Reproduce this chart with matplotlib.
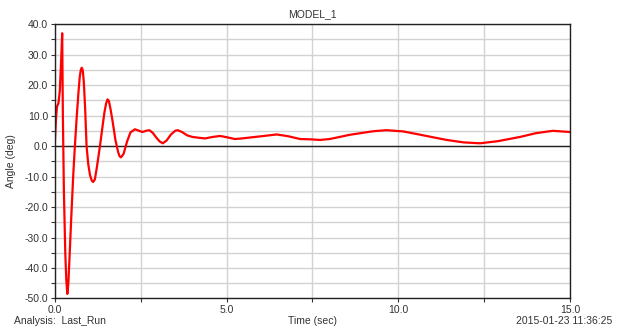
import matplotlib.pyplot as plt
from matplotlib.ticker import MultipleLocator

plt.rcParams['font.family'] = 'Liberation Sans'

# values
time = [0, 0.03, 0.06, 0.1, 0.14, 0.18, 0.21, 0.23, 0.26, 0.3, 0.33, 0.36, 0.39,
        0.43, 0.48, 0.53, 0.58, 0.63, 0.68, 0.72, 0.75, 0.78, 0.81, 0.84, 0.88,
        0.92, 0.97, 1.02, 1.07, 1.11, 1.16, 1.22, 1.31, 1.38, 1.44, 1.49, 1.53,
        1.57, 1.62, 1.68, 1.76, 1.84, 1.88, 1.92, 1.96, 2.0, 2.1, 2.2, 2.33,
        2.45, 2.55, 2.65, 2.75, 2.85, 2.95, 3.05, 3.14, 3.25, 3.38, 3.5, 3.57,
        3.7, 3.85, 4.0, 4.2, 4.37, 4.6, 4.81, 5.0, 5.24, 5.45, 5.68, 6.0, 6.46,
        6.8, 7.14, 7.45, 7.72, 8.0, 8.3, 8.59, 9.0, 9.3, 9.66, 10.14, 10.6,
        11.0, 11.41, 11.9, 12.38, 12.9, 13.55, 14.0, 14.5, 15.0]
angle = [2, 9, 13, 14, 18, 28, 37, 10, -15, -35, -44, -48.5, -45,
         -35, -22, -10, 0, 9, 17, 22.5, 24.8, 25.7, 24.8, 21, 12,
         0, -6, -9.5, -11.3, -11.8, -11, -7, 0, 6, 11, 14, 15.3,
         14.8, 12, 8, 2, -2, -3.3, -3.7, -3.2, -2.5, 1.5, 4.5, 5.5,
         5, 4.6, 5, 5.2, 4.3, 2.8, 1.5, 0.9, 1.8, 3.8, 5, 5.2,
         4.6, 3.5, 3, 2.7, 2.5, 3, 3.3, 2.9, 2.3, 2.5, 2.8, 3.2, 3.8,
         3.2, 2.3, 2.2, 2.0, 2.3, 3.0, 3.7, 4.4, 4.9, 5.2, 4.8, 3.8,
         2.9, 2.0, 1.2, 0.9, 1.6, 3.0, 4.2, 5.0, 4.6]

fig = plt.figure(figsize=(6.17, 3.30), dpi=100)
ax = fig.add_axes([0.0891, 0.0955, 0.8347, 0.8315])

ax.set_xlim(0, 15)
ax.set_ylim(-50, 40)
ax.xaxis.set_major_locator(MultipleLocator(5))
ax.xaxis.set_minor_locator(MultipleLocator(2.5))
ax.yaxis.set_major_locator(MultipleLocator(10))
ax.yaxis.set_minor_locator(MultipleLocator(5))
ax.xaxis.set_major_formatter(lambda v, p: f'{v:.1f}')
ax.yaxis.set_major_formatter(lambda v, p: f'{v:.1f}')

ax.grid(which='both', color='#d2d2d2', lw=1.0)
ax.set_axisbelow(True)
ax.axhline(0, color='#222222', lw=1)

ax.plot(time, angle, color='red', lw=1.6)

ax.tick_params(which='both', direction='out', length=3, width=0.8,
               labelsize=7.5, colors='#333333', pad=2)
for s in ax.spines.values():
    s.set_color('#222222')
    s.set_linewidth(1)

ax.set_title('MODEL_1', fontsize=7.5, color='#333333', pad=5)
ax.set_ylabel('Angle (deg)', fontsize=7.5, color='#333333', labelpad=6)
fig.text(0.507, 0.018, 'Time (sec)', fontsize=7.5, color='#333333', ha='center')
fig.text(0.022, 0.018, 'Analysis:  Last_Run', fontsize=7.5, color='#333333')
fig.text(0.992, 0.018, '2015-01-23 11:36:25', fontsize=7.5, color='#333333', ha='right')

fig.savefig('out.png', dpi=100)
